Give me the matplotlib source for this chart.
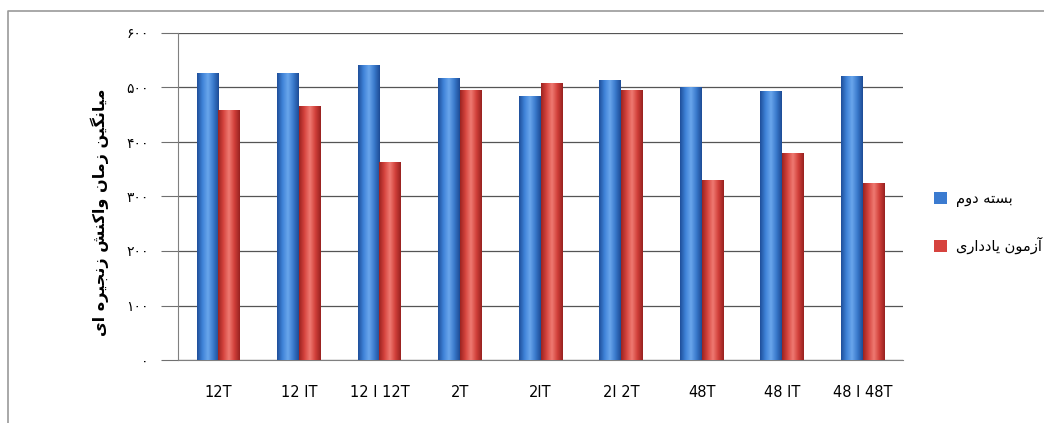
import numpy as np
import matplotlib
matplotlib.use("Agg")
import matplotlib.pyplot as plt
from matplotlib.lines import Line2D
from matplotlib.colors import LinearSegmentedColormap

categories = ["12T", "12 IT", "12 I 12T", "2T", "2IT", "2I 2T", "48T", "48 IT", "48 I 48T"]
second_block = [526, 526, 541, 517, 483, 512, 500, 493, 520]
retention = [458, 466, 363, 494, 507, 494, 329, 378, 324]
yticks = [0, 100, 200, 300, 400, 500, 600]

ylabel_fa = "میانگین زمان واکنش زنجیره ای"
legend_fa = ["بسته دوم", "آزمون یادداری"]

# simple Persian shaping: (isolated, final, initial, medial); None = no left join
FORMS = {
    "ا": ("\uFE8D", "\uFE8E", None, None),
    "آ": ("\uFE81", "\uFE82", None, None),
    "ب": ("\uFE8F", "\uFE90", "\uFE91", "\uFE92"),
    "ت": ("\uFE95", "\uFE96", "\uFE97", "\uFE98"),
    "ج": ("\uFE9D", "\uFE9E", "\uFE9F", "\uFEA0"),
    "د": ("\uFEA9", "\uFEAA", None, None),
    "ر": ("\uFEAD", "\uFEAE", None, None),
    "ز": ("\uFEAF", "\uFEB0", None, None),
    "س": ("\uFEB1", "\uFEB2", "\uFEB3", "\uFEB4"),
    "ش": ("\uFEB5", "\uFEB6", "\uFEB7", "\uFEB8"),
    "ل": ("\uFEDD", "\uFEDE", "\uFEDF", "\uFEE0"),
    "م": ("\uFEE1", "\uFEE2", "\uFEE3", "\uFEE4"),
    "ن": ("\uFEE5", "\uFEE6", "\uFEE7", "\uFEE8"),
    "ه": ("\uFEE9", "\uFEEA", "\uFEEB", "\uFEEC"),
    "و": ("\uFEED", "\uFEEE", None, None),
    "ی": ("\uFBFC", "\uFBFD", "\uFBFE", "\uFBFF"),
    "ک": ("\uFB8E", "\uFB8F", "\uFB90", "\uFB91"),
    "گ": ("\uFB92", "\uFB93", "\uFB94", "\uFB95"),
}


def shape_fa(text):
    out = []
    n = len(text)
    for i, ch in enumerate(text):
        if ch not in FORMS:
            out.append(ch)
            continue
        prev = text[i - 1] if i > 0 else None
        nxt = text[i + 1] if i < n - 1 else None
        joins_prev = prev in FORMS and FORMS[prev][2] is not None
        joins_next = nxt in FORMS and FORMS[ch][2] is not None
        iso, fin, ini, med = FORMS[ch]
        if joins_prev and joins_next:
            out.append(med)
        elif joins_prev:
            out.append(fin)
        elif joins_next:
            out.append(ini)
        else:
            out.append(iso)
    return "".join(reversed(out))


def fa_digits(v):
    return str(v).translate(str.maketrans("0123456789", "۰۱۲۳۴۵۶۷۸۹"))


plt.rcParams["font.family"] = ["DejaVu Sans"]

fig = plt.figure(figsize=(10.44, 4.23), dpi=100)
# outer frame: only top and left edges are visible in the crop
fig.lines.append(Line2D([8 / 1044, 8 / 1044, 1.0], [0.0, 1 - 11 / 423, 1 - 11 / 423],
                        transform=fig.transFigure, color="#9a9a9a", linewidth=1.2))
ax = fig.add_axes([178 / 1044, 1 - 360 / 423, 725 / 1044, 327 / 423])

x = np.arange(len(categories))
w = 0.27
blue_cmap = LinearSegmentedColormap.from_list("b", ["#1f4f9a", "#3f83d8", "#6aa6ec", "#3a7acc", "#1d4c96"])
red_cmap = LinearSegmentedColormap.from_list("r", ["#9c2320", "#d6453f", "#ef7a72", "#d1403a", "#982220"])
grad = np.linspace(0, 1, 64).reshape(1, -1)

bars_b = ax.bar(x - w / 2, second_block, w, color="#3b7bd0", label=shape_fa(legend_fa[0]), zorder=2)
bars_r = ax.bar(x + w / 2, retention, w, color="#d6433e", label=shape_fa(legend_fa[1]), zorder=2)
for bars, cm in ((bars_b, blue_cmap), (bars_r, red_cmap)):
    for b in bars:
        x0, y0 = b.get_x(), b.get_y()
        ax.imshow(grad, cmap=cm, aspect="auto", zorder=3,
                  extent=(x0, x0 + b.get_width(), y0, y0 + b.get_height()))

ax.set_xlim(-0.5, len(categories) - 0.5)
ax.set_ylim(0, 600)
ax.set_yticks(yticks)
ax.set_yticklabels([fa_digits(v) for v in yticks], fontsize=10)
ax.set_xticks(x)
ax.set_xticklabels(categories, fontsize=10.5)
ax.tick_params(axis="y", length=12, width=0.8, color="#707070", pad=9)
ax.tick_params(axis="x", length=0, pad=18)
ax.grid(axis="y", color="#555555", linewidth=0.9, zorder=1)
for s in ("top", "right"):
    ax.spines[s].set_visible(False)
ax.spines["left"].set_color("#808080")
ax.spines["bottom"].set_color("#808080")

fig.text(100 / 1044, 1 - 212 / 423, shape_fa(ylabel_fa), rotation=90, ha="center", va="center",
         fontsize=11.5, fontweight="bold")

ax.legend(loc="center left", bbox_to_anchor=(1.025, 0.42), frameon=False, fontsize=10.5,
          handlelength=0.9, handleheight=0.9, labelspacing=2.0, handletextpad=0.6)

fig.savefig("out.png", dpi=100)
